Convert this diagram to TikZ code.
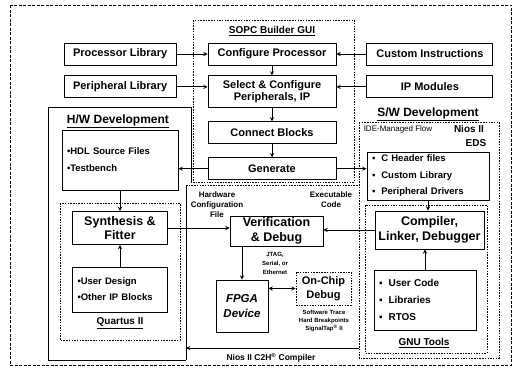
\documentclass[tikz,border=0pt]{standalone}
\usepackage{fontspec}
\setmainfont{Liberation Sans}
\usetikzlibrary{arrows,positioning,backgrounds}

\newcommand{\sqbullet}{▪\hspace{6pt}}

\begin{document}
\begin{tikzpicture}[
    x=1pt, y=-1pt,
    box/.style={rectangle, draw, line width=0.9pt, inner sep=0pt, align=center, font=\fontsize{11}{12.5}\selectfont\bfseries},
    bigbox/.style={box, font=\fontsize{12.5}{14.5}\selectfont\bfseries},
    listbox/.style={rectangle, draw, line width=0.9pt, inner xsep=5pt, inner ysep=0pt, align=left},
    group/.style={draw, line width=0.6pt, dash pattern=on 1.5pt off 1.2pt},
    titletext/.style={font=\fontsize{12}{14}\selectfont\bfseries, inner sep=0pt},
    grouptitle/.style={font=\fontsize{10}{11}\selectfont\bfseries, inner sep=0pt},
    note/.style={font=\fontsize{8}{10}\selectfont\bfseries, align=center, inner sep=0pt},
    arrow/.style={line width=0.9pt,->,>=stealth},
    doublearrow/.style={line width=0.9pt,<->,>=stealth}
]
\useasboundingbox (0,0) rectangle (514,372);

% SOPC Builder column
\node[grouptitle] (sopctitle) at (272,31) {\underline{SOPC Builder GUI}};
\node[box, minimum width=128pt, minimum height=22pt] (configure) at (272,54) {Configure Processor};
\node[box, minimum width=128pt, minimum height=32pt, below=10pt of configure] (select) {Select \& Configure\\Peripherals, IP};
\node[box, minimum width=128pt, minimum height=22pt, below=13pt of select] (connect) {Connect Blocks};
\node[box, minimum width=128pt, minimum height=22pt, below=13pt of connect] (generate) {Generate};

% Libraries and modules
\node[box, minimum width=112pt, minimum height=22pt, left=31pt of configure] (proclib) {Processor Library};
\node[box, minimum width=112pt, minimum height=22pt, below=10pt of proclib] (perilib) {Peripheral Library};
\node[box, minimum width=126pt, minimum height=22pt, right=30pt of configure] (custinstr) {Custom Instructions};
\node[box, minimum width=126pt, minimum height=22pt, below=10pt of custinstr] (ipmod) {IP Modules};

% H/W development
\node[titletext] (hwtitle) at (118,121) {\underline{H/W Development}};
\node[listbox, text width=106pt, minimum height=60pt, font=\fontsize{9.5}{17}\selectfont\bfseries] (hdl) at (120,160) {•HDL Source Files\\•Testbench};
\node[bigbox, minimum width=95pt, minimum height=33pt] (synth) at (120,228) {Synthesis \&\\Fitter};
\node[listbox, text width=85pt, minimum height=45pt, font=\fontsize{9.5}{16}\selectfont\bfseries] (userdes) at (120,289.5) {•User Design\\•Other IP Blocks};
\node[grouptitle] (quartuslbl) at (120,323) {\underline{Quartus II}};

% Verification and target
\node[bigbox, minimum width=93pt, minimum height=30pt] (verif) at (276.5,231) {Verification\\\& Debug};
\node[box, minimum width=52pt, minimum height=52pt, font=\fontsize{11.5}{15}\selectfont\bfseries\itshape] (fpga) at (242,306) {FPGA\\Device};
\node[box, group, minimum width=55pt, minimum height=33pt, font=\fontsize{11}{13.5}\selectfont\bfseries] (onchip) at (323.5,288.5) {On-Chip\\Debug};

\node[note] (hwcfg) at (217,205) {Hardware\\Configuration\\File};
\node[note] (exec) at (331,200) {Executable\\Code};
\node[note, font=\fontsize{6}{9}\selectfont\bfseries] (jtag) at (275,263) {JTAG,\\Serial, or\\Ethernet};
\node[note, font=\fontsize{6}{8}\selectfont\bfseries] (swtrace) at (324,321) {Software Trace\\Hard Breakpoints\\SignalTap\textsuperscript{®} II};
\node[note, font=\fontsize{8.5}{10}\selectfont\bfseries] (c2h) at (271,358) {Nios II C2H\textsuperscript{®} Compiler};

% S/W development
\node[titletext] (swtitle) at (428,114) {\underline{S/W Development}};
\node[font=\fontsize{8}{9}\selectfont, inner sep=0pt] (ideflow) at (398,129) {IDE-Managed Flow};
\node[font=\fontsize{10}{11}\selectfont\bfseries, inner sep=0pt] (nios) at (469,129) {Nios II};
\node[font=\fontsize{10}{11}\selectfont\bfseries, inner sep=0pt] (eds) at (476,143) {EDS};
\node[listbox, text width=112pt, minimum height=48pt, font=\fontsize{9.5}{16.5}\selectfont\bfseries] (cheader) at (428,176) {\sqbullet C Header files\\\sqbullet Custom Library\\\sqbullet Peripheral Drivers};
\node[bigbox, minimum width=109pt, minimum height=38pt] (compiler) at (429.5,230) {Compiler,\\Linker, Debugger};
\node[listbox, text width=92pt, minimum height=60pt, font=\fontsize{10}{17}\selectfont\bfseries] (usercode) at (425,300) {\sqbullet User Code\\\sqbullet Libraries\\\sqbullet RTOS};
\node[grouptitle] (gnulbl) at (424,343) {\underline{GNU Tools}};

\coordinate (c2hstart) at (359,348);
\coordinate (c2hend) at (186,348);

% Arrows into the SOPC builder
\draw[arrow] (proclib) -- (configure);
\draw[arrow] (perilib.east) -- (perilib.east -| select.west);
\draw[arrow] (custinstr) -- (configure);
\draw[arrow] (ipmod.west) -- (ipmod.west -| select.east);
\draw[arrow] (configure) -- (select);
\draw[arrow] (select) -- (connect);
\draw[arrow] (connect) -- (generate);

% Generated outputs
\draw[arrow] (generate.west) -- (generate.west -| hdl.east);
\draw[arrow] (generate.east) -- (generate.east -| cheader.west);

% Hardware path
\draw[arrow] (hdl) -- (synth);
\draw[arrow] (userdes) -- (synth);
\draw[arrow] (synth.east) -- (synth.east -| verif.west);
\draw[arrow] (verif.south -| fpga.north) -- (fpga.north);
\draw[doublearrow] (fpga.east |- onchip.west) -- (onchip.west);

% Software path
\draw[arrow] (cheader.south) -- (cheader.south |- compiler.north);
\draw[arrow] (usercode.north) -- (usercode.north |- compiler.south);
\draw[arrow] (compiler.west) -- (compiler.west -| verif.east);
\draw[arrow] (c2hstart) -- (c2hend);

% Group outlines
\begin{scope}[on background layer]
    \draw[line width=0.7pt, dash pattern=on 3pt off 1.5pt] (10,5) rectangle (511,365);
    \draw[group] (193,20) rectangle (354,182);
    \draw[line width=0.9pt] (186,360) -- (48,360) -- (48,107) -- (191,107) -- (191,183);
    \draw[line width=0.9pt] (186,185) -- (186,360);
    \draw[group] (186,185) -- (359,185);
    \draw[group] (60,203) rectangle (180,340);
    \draw[group] (359,122) rectangle (499,358);
    \draw[group] (365,205) rectangle (487,353);
\end{scope}

\end{tikzpicture}
\end{document}
